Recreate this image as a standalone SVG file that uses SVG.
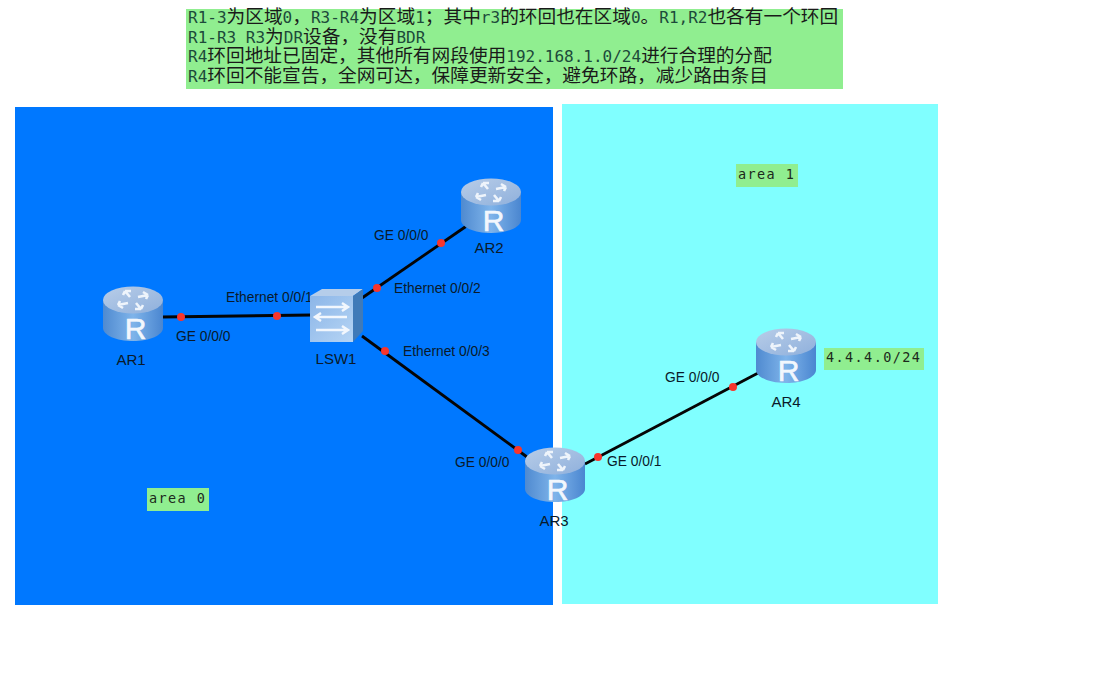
<svg xmlns="http://www.w3.org/2000/svg" width="1114" height="673" viewBox="0 0 1114 673">
<style>
text{font-family:"Liberation Sans",Arial,sans-serif}
.lb{font-size:13.8px;fill:#0a1a2a}
.nm{font-size:15px;fill:#0a1a2a}
.m{font-family:"DejaVu Sans Mono","Liberation Mono",monospace;font-size:13.5px;letter-spacing:1.4px;fill:#1c2a1c}
.n{font-family:"DejaVu Sans Mono","Liberation Mono",monospace;font-size:16px;fill:#1c4a3a}
.c{font-family:"Noto Sans CJK SC",sans-serif;font-size:18.7px;fill:#1a1a1a}
.tag{fill:#90ee90}
.ln{stroke:#050505;stroke-width:2.8;fill:none}
.dot{fill:#f8352c}
.arw{fill:none;stroke:#eef4fb;stroke-width:2.6}
</style>
<defs>
<linearGradient id="side" x1="0" x2="1" y1="0" y2="0"><stop offset="0" stop-color="#4f8ad0"/><stop offset=".5" stop-color="#7fb4ea"/><stop offset="1" stop-color="#4a86d0"/></linearGradient>
<linearGradient id="top" x1="0" x2="1" y1="0" y2="1"><stop offset="0" stop-color="#b8cde8"/><stop offset="1" stop-color="#8fb0dc"/></linearGradient>
<linearGradient id="front" x1="0" x2="1" y1="0" y2="1"><stop offset="0" stop-color="#8cb6e8"/><stop offset="1" stop-color="#b5d4f4"/></linearGradient>
<g id="router">
<path d="M-30-14V14C-30 21-17 27 0 27S30 21 30 14V-14Z" fill="url(#side)"/>
<ellipse cx="0" cy="-14" rx="30" ry="13.5" fill="url(#top)"/>
<path class="arw" d="M-3-17L-8-23M-8-23H-2M-8-23L-10-19M3-11L8-5M8-5H2M8-5L10-9M5-17L15-19M15-19L10-22M15-19L13-15M-5-11L-15-9M-15-9L-10-6M-15-9L-13-13"/>
<text x="2.5" y="25" text-anchor="middle" font-size="30" fill="#f2f7fd" stroke="#f2f7fd" stroke-width=".6">R</text>
</g>
</defs>
<rect x="15" y="107" width="538" height="498" fill="#0078ff"/>
<rect x="562" y="104" width="376" height="500" fill="#80ffff"/>
<g id="note">
<rect class="tag" x="186" y="9" width="657" height="80"/>
<text y="23" x="188" class="n">R1-3<tspan class="c">为区域</tspan>0<tspan class="c">，</tspan>R3-R4<tspan class="c">为区域</tspan>1<tspan class="c">；其中</tspan>r3<tspan class="c">的环回也在区域</tspan>0<tspan class="c">。</tspan>R1,R2<tspan class="c">也各有一个环回</tspan></text>
<text y="43" x="188" class="n">R1-R3 R3<tspan class="c">为</tspan>DR<tspan class="c">设备，没有</tspan>BDR</text>
<text y="62" x="188" class="n">R4<tspan class="c">环回地址已固定，其他所有网段使用</tspan>192.168.1.0/24<tspan class="c">进行合理的分配</tspan></text>
<text y="82" x="188" class="n">R4<tspan class="c">环回不能宣告，全网可达，保障更新安全，避免环路，减少路由条目</tspan></text>
</g>
<g id="connectors">
<path class="ln" d="M162 317L312 315"/>
<path class="ln" d="M362 298L468 225"/>
<path class="ln" d="M362 336L527 457"/>
<path class="ln" d="M585 464L760 372"/>
<g class="dot">
<circle cx="181" cy="317" r="4"/><circle cx="277" cy="316" r="4"/>
<circle cx="377" cy="288" r="4"/><circle cx="441" cy="243" r="4"/>
<circle cx="385" cy="351" r="4"/><circle cx="518" cy="450" r="4"/>
<circle cx="598" cy="457" r="4"/><circle cx="733" cy="387" r="4"/>
</g>
<text class="lb" x="176" y="341">GE 0/0/0</text>
<text class="lb" x="226" y="302">Ethernet 0/0/1</text>
<text class="lb" x="374" y="240">GE 0/0/0</text>
<text class="lb" x="394" y="293">Ethernet 0/0/2</text>
<text class="lb" x="403" y="356">Ethernet 0/0/3</text>
<text class="lb" x="455" y="467">GE 0/0/0</text>
<text class="lb" x="607" y="466">GE 0/0/1</text>
<text class="lb" x="665" y="382">GE 0/0/0</text>
</g>
<g id="AR1"><use href="#router" x="133" y="314"/><text class="nm" x="131" y="365" text-anchor="middle">AR1</text></g>
<g id="AR2"><use href="#router" x="491" y="206"/><text class="nm" x="489" y="253" text-anchor="middle">AR2</text></g>
<g id="AR3"><use href="#router" x="555" y="475"/><text class="nm" x="554" y="526" text-anchor="middle">AR3</text></g>
<g id="AR4"><use href="#router" x="786" y="356"/><text class="nm" x="786" y="407" text-anchor="middle">AR4</text></g>
<g id="LSW1">
<path d="M310 296L322 289H363L353 296Z" fill="#b5cdea"/>
<path d="M353 296L363 289V331L353 342Z" fill="#3f7ab8"/>
<rect x="310" y="296" width="43" height="46" fill="url(#front)"/>
<path d="M316 307H347M342 303L348 307L342 311M347 317H316M321 313L315 317L321 321M316 330H347M342 326L348 330L342 334" fill="none" stroke="#f2f7fd" stroke-width="2.5"/>
<text class="nm" x="336" y="364" text-anchor="middle">LSW1</text>
</g>
<g id="area0"><rect class="tag" x="147" y="488" width="62" height="23"/><text class="m" x="149" y="503">area 0</text></g>
<g id="area1"><rect class="tag" x="736" y="164" width="62" height="23"/><text class="m" x="738" y="179">area 1</text></g>
<g id="loop4"><rect class="tag" x="824" y="348" width="100" height="22"/><text class="m" x="826" y="362">4.4.4.0/24</text></g>
</svg>
